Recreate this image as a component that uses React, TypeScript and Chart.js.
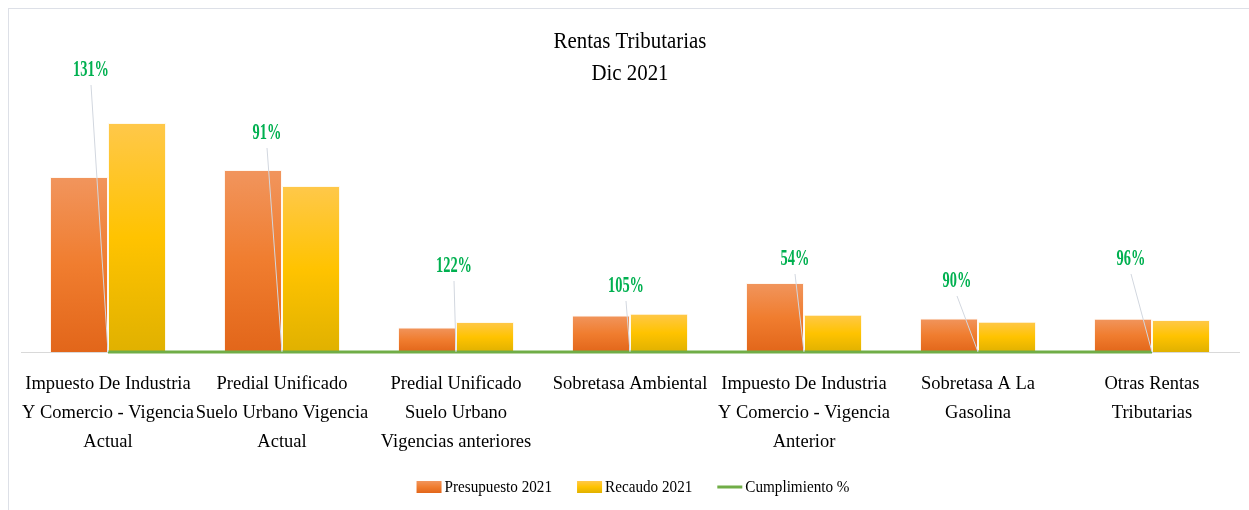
import React, { useEffect, useRef } from 'react';
import { Chart, registerables } from 'chart.js';

Chart.register(...registerables);

// ---------- data ----------
const TITLE_LINES: string[] = ['Rentas Tributarias', 'Dic 2021'];

const CATEGORIES: string[][] = [
  ['Impuesto De Industria', 'Y Comercio - Vigencia', 'Actual'],
  ['Predial Unificado', 'Suelo Urbano Vigencia', 'Actual'],
  ['Predial Unificado', 'Suelo Urbano', 'Vigencias anteriores'],
  ['Sobretasa Ambiental'],
  ['Impuesto De Industria', 'Y Comercio - Vigencia', 'Anterior'],
  ['Sobretasa A La', 'Gasolina'],
  ['Otras Rentas', 'Tributarias'],
];

const SERIES_NAMES: string[] = ['Presupuesto 2021', 'Recaudo 2021', 'Cumplimiento %'];

const PRESUPUESTO: number[] = [17500, 18200, 2450, 3650, 6900, 3350, 3320];
const RECAUDO: number[] = [22900, 16600, 2990, 3830, 3730, 3020, 3190];
const CUMPLIMIENTO: number[] = [1.31, 0.91, 1.22, 1.05, 0.54, 0.9, 0.96];

const Y_MAX = 25300;

// ---------- styles ----------
const FONT = '"Liberation Serif", "Times New Roman", serif';
const ORANGE_STOPS = ['#F1955D', '#F07D2F', '#E2661A'];
const YELLOW_STOPS = ['#FFC84A', '#FFC300', '#E0B100'];
const GREEN_LINE = '#70AD47';
const GREEN_TEXT = '#00B050';
const LEGEND_COLORS = ['#F07D2F', '#FFC300', GREEN_LINE];
const BORDER_COLOR = '#dde0e7';
// label offsets (px) from each Cumplimiento point, like manually dragged data labels
const LABEL_OFFSETS: number[][] = [
  [-17, -284],
  [-15, -221],
  [-2, -88],
  [-4, -68],
  [-9, -95],
  [-21, -73],
  [-21, -95],
];

function barGradient(stops: string[]) {
  return (c: any) => {
    const chart = c.chart;
    const y = chart.scales && chart.scales.y;
    if (c.type !== 'data' || !y) return stops[1];
    const top = y.getPixelForValue(c.raw);
    const base = y.getPixelForValue(0);
    if (!isFinite(top) || !isFinite(base) || Math.abs(base - top) < 1) return stops[1];
    const g = chart.ctx.createLinearGradient(0, top, 0, base);
    g.addColorStop(0, stops[0]);
    g.addColorStop(0.5, stops[1]);
    g.addColorStop(1, stops[2]);
    return g;
  };
}

// draws text, optionally narrowed horizontally (the source font is a narrow Garamond)
function squeezed(
  ctx: CanvasRenderingContext2D,
  text: string,
  x: number,
  y: number,
  font: string,
  sx: number,
  color: string,
  align: CanvasTextAlign = 'center'
) {
  ctx.save();
  ctx.translate(x, y);
  ctx.scale(sx, 1);
  ctx.font = font;
  ctx.fillStyle = color;
  ctx.textAlign = align;
  ctx.textBaseline = 'alphabetic';
  ctx.fillText(text, 0, 0);
  ctx.restore();
}

function squeezedWidth(ctx: CanvasRenderingContext2D, text: string, font: string, sx: number) {
  ctx.save();
  ctx.font = font;
  const w = ctx.measureText(text).width * sx;
  ctx.restore();
  return w;
}

const pctLabels = {
  id: 'pctLabels',
  afterDatasetsDraw(chart: any, _args: any, opts: any) {
    const meta = chart.getDatasetMeta(2);
    const ctx = chart.ctx as CanvasRenderingContext2D;
    const values = chart.data.datasets[2].data as number[];
    meta.data.forEach((pt: any, i: number) => {
      const off = opts.offsets[i] || [0, -40];
      const lx = pt.x + off[0];
      const ly = pt.y + off[1];
      ctx.save();
      ctx.strokeStyle = '#d2d7df';
      ctx.lineWidth = 1;
      ctx.beginPath();
      ctx.moveTo(lx, ly + 17);
      ctx.lineTo(pt.x, pt.y);
      ctx.stroke();
      ctx.restore();
      squeezed(ctx, Math.round(values[i] * 100) + '%', lx, ly + 8.5, 'bold 24px ' + FONT, 0.6, GREEN_TEXT);
    });
  },
};

const textPlugin = {
  id: 'garamondText',
  afterDraw(chart: any) {
    const ctx = chart.ctx as CanvasRenderingContext2D;
    const area = chart.chartArea;
    const cx = (area.left + area.right) / 2;

    // title
    const titleFont = '24px ' + FONT;
    TITLE_LINES.forEach((t, i) => squeezed(ctx, t, cx, 38.5 + i * 32, titleFont, 0.87, '#000'));

    // category labels
    const xs = chart.scales.x;
    const catFont = '18.5px ' + FONT;
    CATEGORIES.forEach((lines, i) => {
      const x = xs.getPixelForValue(i);
      lines.forEach((l, j) => squeezed(ctx, l, x, area.bottom + 37 + j * 29, catFont, 1, '#000'));
    });

    // legend
    const legFont = '16.5px ' + FONT;
    const sx = 0.92;
    const box = 25;
    const gap = 3;
    const itemGap = 25;
    const widths = SERIES_NAMES.map((n) => box + gap + squeezedWidth(ctx, n, legFont, sx));
    const total = widths.reduce((a, b) => a + b, 0) + itemGap * (widths.length - 1);
    let x = cx + 3 - total / 2;
    const midY = area.bottom + 135;
    SERIES_NAMES.forEach((n, i) => {
      ctx.save();
      if (i === 2) {
        ctx.strokeStyle = LEGEND_COLORS[i];
        ctx.lineWidth = 3;
        ctx.beginPath();
        ctx.moveTo(x, midY);
        ctx.lineTo(x + box, midY);
        ctx.stroke();
      } else {
        const g = ctx.createLinearGradient(0, midY - 6, 0, midY + 6);
        const stops = i === 0 ? ORANGE_STOPS : YELLOW_STOPS;
        g.addColorStop(0, stops[0]);
        g.addColorStop(0.5, stops[1]);
        g.addColorStop(1, stops[2]);
        ctx.fillStyle = g;
        ctx.fillRect(x, midY - 6, box, 12);
      }
      ctx.restore();
      squeezed(ctx, n, x + box + gap, midY + 5, legFont, sx, '#000', 'left');
      x += widths[i] + itemGap;
    });
  },
};

export default function App() {
  const canvasRef = useRef<HTMLCanvasElement | null>(null);

  useEffect(() => {
    if (!canvasRef.current) return;
    const chart = new Chart(canvasRef.current, {
      type: 'bar',
      data: {
        labels: CATEGORIES,
        datasets: [
          {
            type: 'bar',
            label: SERIES_NAMES[0],
            data: PRESUPUESTO,
            backgroundColor: barGradient(ORANGE_STOPS),
            borderColor: 'rgba(255,235,215,0.35)',
            borderWidth: 1,
            categoryPercentage: 0.667,
            barPercentage: 1,
            order: 2,
          } as any,
          {
            type: 'bar',
            label: SERIES_NAMES[1],
            data: RECAUDO,
            backgroundColor: barGradient(YELLOW_STOPS),
            borderColor: 'rgba(255,240,200,0.35)',
            borderWidth: 1,
            categoryPercentage: 0.667,
            barPercentage: 1,
            order: 2,
          } as any,
          {
            type: 'line',
            label: SERIES_NAMES[2],
            data: CUMPLIMIENTO,
            borderColor: GREEN_LINE,
            backgroundColor: GREEN_LINE,
            borderWidth: 3,
            pointRadius: 0,
            tension: 0,
            clip: false,
            order: 1,
          } as any,
        ],
      },
      options: {
        responsive: false,
        animation: false,
        events: [],
        layout: {
          autoPadding: false,
          padding: { left: 12, right: 2, top: 90, bottom: 157 },
        },
        scales: {
          x: {
            offset: true,
            grid: { display: false, drawTicks: false },
            border: { display: true, color: '#d9d9d9', width: 1 },
            ticks: { display: false, autoSkip: false, maxRotation: 0 },
            afterFit: (scale: any) => {
              scale.height = 0;
            },
          },
          y: {
            display: false,
            min: 0,
            max: Y_MAX,
          },
        },
        plugins: {
          title: { display: false },
          legend: { display: false },
          tooltip: { enabled: false },
          pctLabels: { offsets: LABEL_OFFSETS },
        } as any,
      },
      plugins: [pctLabels, textPlugin],
    } as any);
    return () => chart.destroy();
  }, []);

  return (
    <>
      <div style={{ position: 'fixed', left: 8, top: 8, right: 0, height: 1, background: BORDER_COLOR }} />
      <div style={{ position: 'fixed', left: 8, top: 8, bottom: 0, width: 1, background: BORDER_COLOR }} />
      <div
        style={{
          width: 1232,
          height: 492,
          paddingTop: 1,
          paddingLeft: 1,
          overflow: 'hidden',
          boxSizing: 'content-box',
        }}
      >
        <canvas ref={canvasRef} width={1232} height={500} style={{ display: 'block' }} />
      </div>
    </>
  );
}
